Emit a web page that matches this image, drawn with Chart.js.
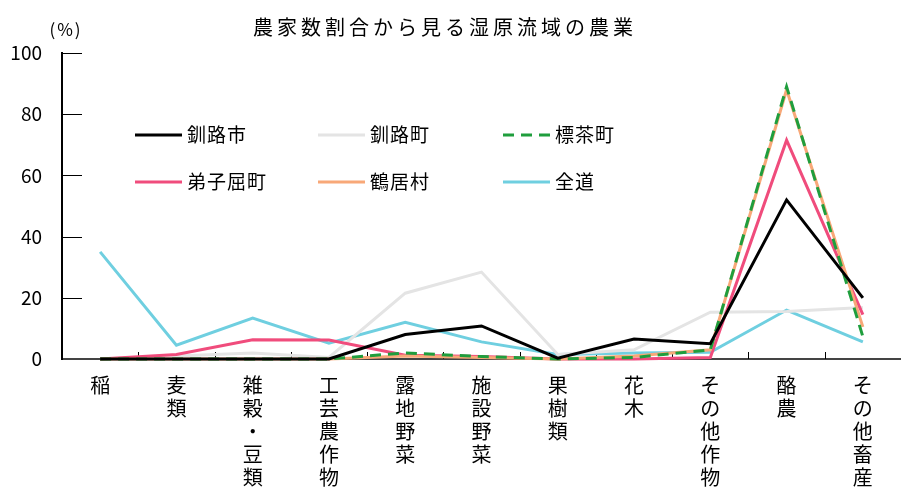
<!DOCTYPE html>
<html>
<head>
<meta charset="utf-8">
<script src="https://cdn.jsdelivr.net/npm/chart.js@4/dist/chart.umd.min.js"></script>
<style>
  html, body { margin: 0; padding: 0; background: #fff; overflow: hidden; }
  canvas { display: block; }
</style>
</head>
<body>
<canvas id="c" width="901" height="493"></canvas>
<script>
// 農家数割合（%）— 作目別
const categories = ['稲', '麦類', '雑穀・豆類', '工芸農作物', '露地野菜', '施設野菜', '果樹類', '花木', 'その他作物', '酪農', 'その他畜産'];
const kushiroCity = [0, 0, 0, 0, 8, 10.8, 0.3, 6.5, 5, 52, 20];
const kushiroTown = [0, 1, 2, 0.5, 21.5, 28.4, 1.5, 3, 15.3, 15.5, 16.8];
const shibecha    = [0, 0, 0, 0, 2, 0.8, 0, 0.5, 3, 89, 7.3];
const teshikaga   = [0, 1.5, 6.3, 6.2, 1.2, 0.8, 0, 0, 0.5, 71.5, 14.5];
const tsurui      = [0, 0, 0, 0, 1, 0.5, 0, 1, 3, 88, 10.5];
const hokkaido    = [35, 4.5, 13.4, 5.2, 12, 5.6, 1.5, 2, 2.2, 16, 5.6];
const yTicks = [0, 20, 40, 60, 80, 100];

const titleText = '農家数割合から見る湿原流域の農業';
const unitText = '(%)';
const FONT = '"Noto Sans CJK JP", "Noto Sans CJK SC", sans-serif';

function series(label, data, color, order, dash) {
  return {
    label, data, order,
    borderColor: color,
    backgroundColor: color,
    borderWidth: 3,
    borderDash: dash || [],
    pointRadius: 0,
    pointHoverRadius: 0,
    tension: 0,
    fill: false,
    clip: false
  };
}

const datasets = [
  series('釧路市', kushiroCity, '#000000', 0),
  series('釧路町', kushiroTown, '#e4e4e4', 4),
  series('標茶町', shibecha, '#1f9e3d', 1, [11, 7]),
  series('弟子屈町', teshikaga, '#f04c7c', 3),
  series('鶴居村', tsurui, '#f8a878', 2),
  series('全道', hokkaido, '#6fcfe0', 5)
];

// legend grid: dataset index, sample x, row y
const legendSlots = [
  [0, 135, 135], [1, 318, 135], [2, 503, 135],
  [3, 135, 182], [4, 318, 182], [5, 503, 182]
];

const decorations = {
  id: 'decorations',
  beforeDatasetsDraw(chart) {
    const { ctx, chartArea, scales } = chart;
    ctx.save();
    ctx.strokeStyle = '#000';
    ctx.lineWidth = 1;
    // inward tick marks on the value axis
    yTicks.forEach(v => {
      if (v === 0) return;
      const y = Math.round(scales.y.getPixelForValue(v)) + 0.5;
      ctx.beginPath();
      ctx.moveTo(chartArea.left, y);
      ctx.lineTo(chartArea.left + 20, y);
      ctx.stroke();
    });
    // inward tick marks between categories
    for (let i = 1; i < categories.length; i++) {
      const x = Math.round(scales.x.getPixelForValue(i - 0.5)) + 0.5;
      ctx.beginPath();
      ctx.moveTo(x, chartArea.bottom);
      ctx.lineTo(x, chartArea.bottom - 7);
      ctx.stroke();
    }
    ctx.restore();
  },
  afterDraw(chart) {
    const { ctx } = chart;
    ctx.save();
    ctx.fillStyle = '#000';
    ctx.textBaseline = 'middle';
    ctx.textAlign = 'center';
    // title
    ctx.font = '20px ' + FONT;
    ctx.letterSpacing = '4px';
    ctx.fillText(titleText, 445, 27);
    // unit label
    ctx.font = '17px ' + FONT;
    ctx.letterSpacing = '2px';
    ctx.fillText(unitText, 66, 30);
    // legend
    ctx.textAlign = 'left';
    ctx.font = '19px ' + FONT;
    ctx.letterSpacing = '1px';
    legendSlots.forEach(([idx, x, y]) => {
      const ds = chart.data.datasets[idx];
      ctx.save();
      ctx.strokeStyle = ds.borderColor;
      ctx.lineWidth = 3;
      ctx.setLineDash(ds.borderDash || []);
      ctx.beginPath();
      ctx.moveTo(x, y);
      ctx.lineTo(x + 47, y);
      ctx.stroke();
      ctx.restore();
      ctx.fillText(ds.label, x + 52, y);
    });
    ctx.restore();
  }
};

new Chart(document.getElementById('c'), {
  type: 'line',
  data: {
    labels: categories.map(s => Array.from(s)),
    datasets
  },
  options: {
    responsive: false,
    animation: false,
    events: [],
    layout: { padding: { top: 53, right: 0, left: 0, bottom: 0 } },
    plugins: {
      legend: { display: false },
      title: { display: false },
      tooltip: { enabled: false }
    },
    scales: {
      x: {
        type: 'category',
        offset: true,
        grid: { display: false, drawTicks: false, offset: true },
        border: { display: true, color: '#444', width: 2 },
        ticks: {
          autoSkip: false,
          maxRotation: 0,
          minRotation: 0,
          padding: 15,
          color: '#000',
          font: { family: FONT, size: 20, lineHeight: 1.15 }
        },
        afterFit(scale) { scale.height = 134; }
      },
      y: {
        min: 0,
        max: 100,
        grid: { display: false, drawTicks: false },
        border: { display: true, color: '#000', width: 2 },
        ticks: {
          stepSize: 20,
          padding: 20,
          color: '#000',
          font: { family: FONT, size: 19 }
        },
        afterFit(scale) { scale.width = 62; }
      }
    }
  },
  plugins: [decorations]
});
</script>
</body>
</html>
